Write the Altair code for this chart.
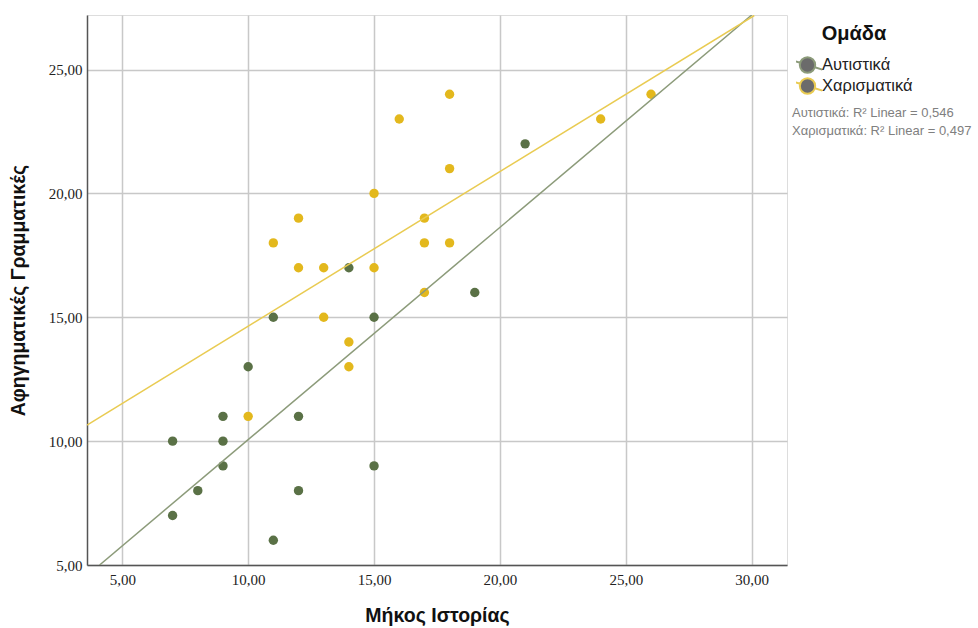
import altair as alt
import pandas as pd

groups = ["Αυτιστικά", "Χαρισματικά"]
point_colors = ["#5a7146", "#e3b81d"]
line_colors = ["#8c9b7a", "#e9cb52"]

aut_x = [7, 7, 8, 9, 9, 9, 10, 11, 11, 12, 12, 14, 15, 15, 19, 21]
aut_y = [10, 7, 8, 11, 10, 9, 13, 15, 6, 11, 8, 17, 15, 9, 16, 22]
char_x = [10, 11, 12, 12, 13, 13, 14, 14, 15, 15, 16, 17, 17, 17, 18, 18, 18, 24, 26]
char_y = [11, 18, 19, 17, 17, 15, 14, 13, 20, 17, 23, 19, 18, 16, 24, 21, 18, 23, 24]

# fit lines (end points)
fit_aut_x = [4.1, 30.0]
fit_aut_y = [5.0, 27.2]
fit_char_x = [3.6, 30.1]
fit_char_y = [10.65, 27.18]

r2_values = ["0,546", "0,497"]
x_ticks = [5, 10, 15, 20, 25, 30]
y_ticks = [5, 10, 15, 20, 25]
x_domain = [3.6, 31.4]
y_domain = [5.0, 27.2]

pts = pd.DataFrame({
    "x": aut_x + char_x,
    "y": aut_y + char_y,
    "pg": [groups[0]] * len(aut_x) + [groups[1]] * len(char_x),
})
fits = pd.DataFrame({
    "x": fit_aut_x + fit_char_x,
    "y": fit_aut_y + fit_char_y,
    "g": [groups[0]] * 2 + [groups[1]] * 2,
})

label_expr = "replace(format(datum.value, '.2f'), '.', ',')"
tick_font = "Liberation Sans Narrow"

x_enc = alt.X("x:Q", scale=alt.Scale(domain=x_domain, nice=False, zero=False),
              axis=alt.Axis(values=x_ticks, labelExpr=label_expr, title="Μήκος Ιστορίας",
                            grid=True, gridColor="#c8c8c8", gridWidth=1.5, ticks=False,
                            domainColor="#555555", domainWidth=1.5,
                            labelFont=tick_font, labelFontSize=15, labelColor="#222222",
                            labelPadding=7, titleFont="Liberation Sans", titleFontSize=19.5,
                            titleFontWeight="bold", titleColor="#111111",
                            titleY=50, titleBaseline="middle"))
y_enc = alt.Y("y:Q", scale=alt.Scale(domain=y_domain, nice=False, zero=False),
              axis=alt.Axis(values=y_ticks, labelExpr=label_expr, title="Αφηγηματικές Γραμματικές",
                            grid=True, gridColor="#c8c8c8", gridWidth=1.5, ticks=False,
                            domainColor="#555555", domainWidth=1.5,
                            labelFont=tick_font, labelFontSize=15, labelColor="#222222",
                            labelPadding=5, titleFont="Liberation Sans", titleFontSize=19.5,
                            titleFontWeight="bold", titleColor="#111111",
                            titleX=-69, titleY=275, titleAngle=-90, titleBaseline="middle",
                            titleAlign="center"))

points = alt.Chart(pts).mark_circle(size=88, opacity=1).encode(
    x=x_enc, y=y_enc,
    fill=alt.Fill("pg:N", scale=alt.Scale(domain=groups, range=point_colors), legend=None),
)

sym_path = ("M-1.45,-0.45L-0.72,-0.22M0.72,0.22L1.45,0.45"
            "M0.75,0A0.75,0.75 0 1,1 -0.75,0A0.75,0.75 0 1,1 0.75,0Z")

lines = alt.Chart(fits).mark_line(strokeWidth=1.5, clip=True).encode(
    x="x:Q", y="y:Q",
    stroke=alt.Stroke("g:N", scale=alt.Scale(domain=groups, range=line_colors),
                      legend=alt.Legend(title="Ομάδα", orient="none", legendX=709, legendY=9,
                                        titleFont="Liberation Sans", titleFontSize=20,
                                        titleFontWeight="bold", titleColor="#111111",
                                        titleAnchor="middle", titlePadding=11,
                                        labelFont="Liberation Sans", labelFontSize=16.5,
                                        labelColor="#222222", labelOffset=3,
                                        symbolType=sym_path, symbolSize=420,
                                        symbolStrokeWidth=2, symbolFillColor="#6b6b6b",
                                        clipHeight=20, rowPadding=1, padding=0)),
)

ann_rows = [f"{g}: R² Linear = {r}" for g, r in zip(groups, r2_values)]
ann1 = alt.Chart(pd.DataFrame({"t": [ann_rows[0]]})).mark_text(
    align="left", baseline="middle", font="Liberation Sans", fontSize=13, color="#808080"
).encode(text="t:N", x=alt.value(705), y=alt.value(98))
ann2 = alt.Chart(pd.DataFrame({"t": [ann_rows[1]]})).mark_text(
    align="left", baseline="middle", font="Liberation Sans", fontSize=13, color="#808080"
).encode(text="t:N", x=alt.value(705), y=alt.value(116))

chart = alt.layer(points, lines, ann1, ann2).resolve_legend(
    fill="independent", stroke="independent"
).properties(
    width=700, height=550,
    padding={"left": 87, "top": 15, "right": 191, "bottom": 63},
    autosize=alt.AutoSizeParams(type="none"),
).configure_view(stroke=None).configure(background="white")

chart.save("out.html", embed_options={"renderer": "svg", "actions": False})
